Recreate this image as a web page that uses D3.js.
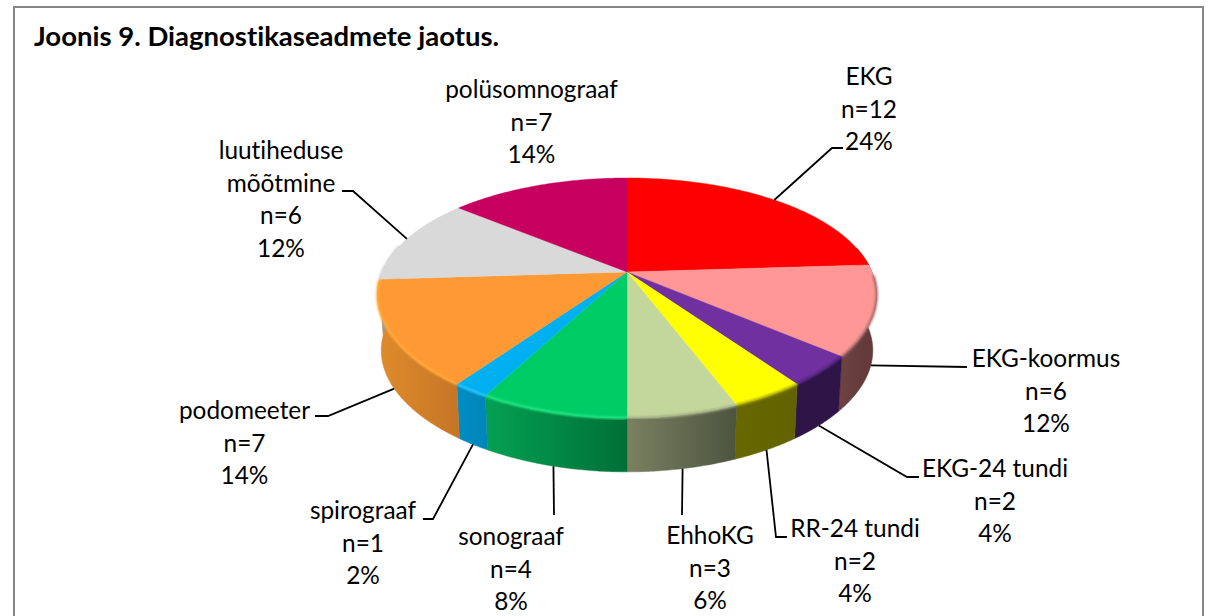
<!DOCTYPE html>
<html>
<head>
<meta charset="utf-8">
<script src="https://cdn.jsdelivr.net/npm/d3@7"></script>
<style>
    html, body { margin: 0; padding: 0; background: #fff; }
    svg { display: block; }
    text { font-family: Lato, "Open Sans", sans-serif; fill: #000; font-variant-ligatures: none; }
</style>
</head>
<body>
<div class="pie-container"></div>
<script>
const titleText = 'Joonis 9. Diagnostikaseadmete jaotus.';
const categories = ['EKG', 'EKG-koormus', 'EKG-24 tundi', 'RR-24 tundi', 'EhhoKG', 'sonograaf', 'spirograaf', 'podomeeter', 'luutiheduse mõõtmine', 'polüsomnograaf'];
const counts = [12, 6, 2, 2, 3, 4, 1, 7, 6, 7];
const percents = ['24%', '12%', '4%', '4%', '6%', '8%', '2%', '14%', '12%', '14%'];

const topColors = ['#ff0000', '#ff9797', '#7030a0', '#ffff00', '#c3d69b', '#00cc66', '#00b0f0', '#ff9933', '#d9d9d9', '#c70060'];
const rimColors = ['#ff0000', '#a86a6a', '#4a2272', '#a8a800', '#a3ad85', '#24e884', '#2cc6ff', '#ffac3e', '#d9d9d9', '#c70060'];
// side wall colours, left end then right end on screen
const sideLeft = ['#8a0000', '#6f4343', '#2e1447', '#686800', '#7b8060', '#04a052', '#008cc4', '#dd8a2c', '#999999', '#700036'];
const sideRight = ['#8a0000', '#643a3a', '#2e1447', '#626200', '#4d5540', '#006f37', '#0086b8', '#c67526', '#999999', '#700036'];

// label block centre x, first baseline y, then leader elbow and end (null = no leader)
const labelLayout = [
    { x: 869, y: 85, elbow: [832, 148], end: [843, 148], face: 'top' },
    { x: 1046, y: 367, elbow: [967, 367], end: [967, 367], face: 'bottom' },
    { x: 995, y: 477, elbow: [907, 477], end: [919, 477], face: 'bottom' },
    { x: 855, y: 537, elbow: [776, 537], end: [787, 537], face: 'bottom' },
    { x: 710, y: 544, elbow: [682, 515], end: [682, 515], face: 'bottom' },
    { x: 511, y: 545, elbow: [554, 515], end: [554, 515], face: 'bottom' },
    { x: 363, y: 519, elbow: [433, 519], end: [423, 519], face: 'bottom' },
    { x: 244.5, y: 419, elbow: [328, 416], end: [315, 416], face: 'bottom' },
    { x: 281, y: 159, elbow: [353, 191], end: [342, 191], face: 'top' },
    { x: 531.5, y: 98, elbow: null, end: null, face: 'top' }
];

const svg_width = 1216;
const svg_height = 616;
const fontSize = 24.4;
const lineStep = 32.5;

// pie seen in perspective: a circle through a projective map
const pieCx = 627, pieCy = 272;
const radiusX = 245, radiusY = 114.4, tiltX = 0.19, tiltY = 0.2167;
const bottomShift = 56, bottomScale = 0.985;

function project(angle, r, shift, scale) {
    const u = Math.sin(angle) * r;
    const v = -Math.cos(angle) * r;
    return [
        pieCx + scale * radiusX * u / (1 - tiltX * v),
        pieCy + shift + scale * radiusY * v / (1 - tiltY * v)
    ];
}
const topPoint = (a, r = 1) => project(a, r, 0, 1);
const bottomPoint = a => project(a, 1, bottomShift, bottomScale);

function arcAngles(a0, a1) {
    const n = Math.max(2, Math.ceil((a1 - a0) / 0.01));
    return d3.range(n + 1).map(i => a0 + (a1 - a0) * i / n);
}

const lineGen = d3.line();
const slices = d3.pie().sort(null).value(d => d)(counts);
const visibleFrom = 1.35, visibleTo = 4.95;
const rimFrom = 1.6;

const svg = d3.select('.pie-container').append('svg')
    .attr('width', svg_width).attr('height', svg_height);
const defs = svg.append('defs');
defs.append('filter').attr('id', 'soft')
    .attr('x', '-5%').attr('y', '-5%').attr('width', '110%').attr('height', '110%')
    .append('feGaussianBlur').attr('stdDeviation', 0.9);

// frame
svg.append('rect')
    .attr('x', 14).attr('y', 7).attr('width', 1189).attr('height', 640)
    .style('fill', '#fff').style('stroke', '#868686').style('stroke-width', 2);

svg.append('text')
    .attr('x', 34).attr('y', 46)
    .style('font-size', '27.5px').style('font-weight', 'bold')
    .text(titleText);

// side walls
const sideData = slices.map((d, i) => ({
    i,
    a0: Math.max(d.startAngle, visibleFrom),
    a1: Math.min(d.endAngle, visibleTo)
})).filter(d => d.a1 > d.a0);

sideData.forEach(d => {
    const x0 = bottomPoint(d.a0)[0], x1 = bottomPoint(d.a1)[0];
    const grad = defs.append('linearGradient').attr('id', `side-${d.i}`)
        .attr('gradientUnits', 'userSpaceOnUse')
        .attr('x1', Math.min(x0, x1)).attr('x2', Math.max(x0, x1))
        .attr('y1', 0).attr('y2', 0);
    grad.append('stop').attr('offset', 0).attr('stop-color', sideLeft[d.i]);
    grad.append('stop').attr('offset', 1).attr('stop-color', sideRight[d.i]);
});

svg.append('g').attr('class', 'sides')
    .selectAll('path').data(sideData).enter()
    .append('path')
    .attr('d', d => {
        const angles = arcAngles(d.a0, d.a1);
        return lineGen(angles.map(a => topPoint(a)).concat(angles.slice().reverse().map(bottomPoint))) + 'Z';
    })
    .style('fill', d => `url(#side-${d.i})`)
    .style('stroke', d => `url(#side-${d.i})`)
    .style('stroke-width', 0.5);

// top face
svg.append('g').attr('class', 'faces')
    .selectAll('path').data(slices).enter()
    .append('path')
    .attr('d', d => lineGen([[pieCx, pieCy]].concat(arcAngles(d.startAngle, d.endAngle).map(a => topPoint(a)))) + 'Z')
    .style('fill', (d, i) => topColors[i])
    .style('stroke', (d, i) => topColors[i])
    .style('stroke-width', 0.4);

// soft bevel on the front edge
svg.append('g').attr('class', 'rims')
    .selectAll('path').data(sideData.filter(d => d.a1 > rimFrom)).enter()
    .append('path')
    .attr('d', d => lineGen(arcAngles(Math.max(d.a0, rimFrom), d.a1).map(a => topPoint(a))))
    .style('fill', 'none')
    .style('stroke', d => rimColors[d.i])
    .style('stroke-width', 2.5)
    .style('filter', 'url(#soft)');

// leaders
const midAngle = d => (d.startAngle + d.endAngle) / 2;
svg.append('g').attr('class', 'leaders')
    .selectAll('path').data(slices.map((d, i) => ({ d, i })).filter(o => labelLayout[o.i].elbow)).enter()
    .append('path')
    .attr('d', o => {
        const l = labelLayout[o.i];
        const start = l.face === 'top' ? topPoint(midAngle(o.d)) : bottomPoint(midAngle(o.d));
        return lineGen([start, l.elbow, l.end]);
    })
    .style('fill', 'none').style('stroke', '#000').style('stroke-width', 1.8);

// labels
const labels = svg.append('g').attr('class', 'labels')
    .selectAll('text').data(categories).enter()
    .append('text')
    .attr('text-anchor', 'middle')
    .style('font-size', fontSize + 'px');

labels.each(function (name, i) {
    const l = labelLayout[i];
    const rows = (i === 8 ? ['luutiheduse', 'mõõtmine'] : [name]).concat([`n=${counts[i]}`, percents[i]]);
    d3.select(this).selectAll('tspan').data(rows).enter()
        .append('tspan')
        .attr('x', l.x)
        .attr('y', (r, k) => l.y + k * lineStep)
        .text(r => r);
});
</script>
</body>
</html>
